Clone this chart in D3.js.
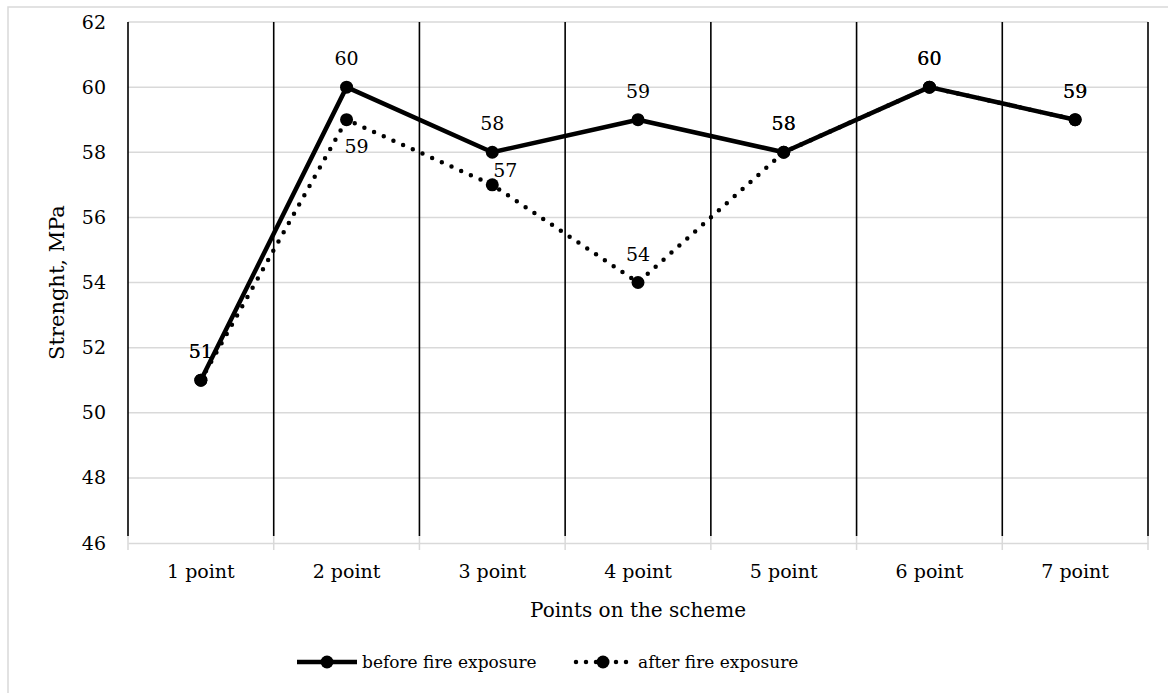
<!DOCTYPE html>
<html>
<head>
<meta charset="utf-8">
<script src="https://cdn.jsdelivr.net/npm/d3@7"></script>
<style>
  html, body { margin: 0; padding: 0; background: #fff; }
  svg { display: block; }
  text { font-family: "DejaVu Serif", "Liberation Serif", serif; fill: #000; }
</style>
</head>
<body>
<svg id="chart" width="1168" height="693"></svg>
<script>
// Categories along the x axis
const categories = ["1 point", "2 point", "3 point", "4 point", "5 point", "6 point", "7 point"];
// Strength values, MPa
const beforeFire = [51, 60, 58, 59, 58, 60, 59];
const afterFire  = [51, 59, 57, 54, 58, 60, 59];
// Value axis ticks
const yTicks = [46, 48, 50, 52, 54, 56, 58, 60, 62];
// Where each "after" label sits relative to its marker
const afterLabelSide = ["top", "bottom-right", "top-right", "top", "top", "top", "top"];

const seriesNames = ["before fire exposure", "after fire exposure"];

const svg = d3.select("#chart");
const W = 1168, H = 693;
const plot = { left: 128, right: 1148, top: 22, bottom: 543 };

// Chart-area frame
svg.append("rect")
  .attr("x", 8).attr("y", 7)
  .attr("width", W + 10).attr("height", H + 10)
  .attr("fill", "#fff").attr("stroke", "#d9d9d9").attr("stroke-width", 1.5);

const x = d3.scaleBand().domain(categories).range([plot.left, plot.right]).padding(0);
const y = d3.scaleLinear().domain([46, 62]).range([plot.bottom, plot.top]);

// Horizontal gridlines
svg.append("g").selectAll("line").data(yTicks.filter(t => t !== 46)).join("line")
  .attr("x1", plot.left).attr("x2", plot.right)
  .attr("y1", d => y(d)).attr("y2", d => y(d))
  .attr("stroke", "#d9d9d9").attr("stroke-width", 1.5);

// Category axis (gray baseline + ticks between categories)
const xAxis = d3.axisBottom(x).tickSize(0).tickPadding(22);
const gx = svg.append("g").attr("transform", `translate(0,${plot.bottom})`).call(xAxis);
gx.select(".domain").attr("stroke", "#d9d9d9").attr("stroke-width", 1.5);
gx.selectAll("text")
  .style("font-family", '"DejaVu Serif", serif')
  .style("font-size", "19px").attr("fill", "#000");

const boundaries = categories.map(c => x(c)).concat([x(categories[categories.length - 1]) + x.bandwidth()]);
svg.append("g").selectAll("line").data(boundaries).join("line")
  .attr("x1", d => d).attr("x2", d => d)
  .attr("y1", plot.bottom - 7).attr("y2", plot.bottom + 7)
  .attr("stroke", "#d9d9d9").attr("stroke-width", 1.5);

// Black vertical separators between categories
svg.append("g").selectAll("line").data(boundaries).join("line")
  .attr("x1", d => d).attr("x2", d => d)
  .attr("y1", plot.top).attr("y2", plot.bottom - 7)
  .attr("stroke", "#000").attr("stroke-width", 1.6);

// Value axis labels
const yAxis = d3.axisLeft(y).tickValues(yTicks).tickSize(0).tickPadding(22);
const gy = svg.append("g").attr("transform", `translate(${plot.left},0)`).call(yAxis);
gy.select(".domain").remove();
gy.selectAll("text")
  .style("font-family", '"DejaVu Serif", serif')
  .style("font-size", "19px").attr("fill", "#000");

// Axis titles
svg.append("text")
  .attr("x", (plot.left + plot.right) / 2).attr("y", 617)
  .attr("text-anchor", "middle").style("font-size", "20px")
  .text("Points on the scheme");

svg.append("text")
  .attr("transform", `translate(64,${(plot.top + plot.bottom) / 2}) rotate(-90)`)
  .attr("text-anchor", "middle").style("font-size", "21px")
  .text("Strenght, MPa");

const cx = c => x(c) + x.bandwidth() / 2;
const line = d3.line().x((d, i) => cx(categories[i])).y(d => y(d));

// "after" series (drawn first, underneath)
svg.append("path").datum(afterFire)
  .attr("d", line).attr("fill", "none")
  .attr("stroke", "#000").attr("stroke-width", 4.5)
  .attr("stroke-linecap", "round").attr("stroke-dasharray", "0 10.6");
svg.append("g").selectAll("circle").data(afterFire).join("circle")
  .attr("cx", (d, i) => cx(categories[i])).attr("cy", d => y(d)).attr("r", 6.5)
  .attr("fill", "#000");

// "before" series
svg.append("path").datum(beforeFire)
  .attr("d", line).attr("fill", "none")
  .attr("stroke", "#000").attr("stroke-width", 4.5)
  .attr("stroke-linejoin", "round");
svg.append("g").selectAll("circle").data(beforeFire).join("circle")
  .attr("cx", (d, i) => cx(categories[i])).attr("cy", d => y(d)).attr("r", 6.5)
  .attr("fill", "#000");

// Data labels
const labelFont = "19px";
svg.append("g").selectAll("text").data(beforeFire).join("text")
  .attr("x", (d, i) => cx(categories[i])).attr("y", d => y(d) - 22)
  .attr("text-anchor", "middle").style("font-size", labelFont)
  .text(d => d);

const sideOffset = {
  "top": [0, -22],
  "bottom-right": [10, 33],
  "top-right": [13, -8]
};
svg.append("g").selectAll("text").data(afterFire).join("text")
  .attr("x", (d, i) => cx(categories[i]) + sideOffset[afterLabelSide[i]][0])
  .attr("y", (d, i) => y(d) + sideOffset[afterLabelSide[i]][1])
  .attr("text-anchor", "middle").style("font-size", labelFont)
  .text(d => d);

// Legend
const legendY = 662;
const leg = svg.append("g");
const lg1 = leg.append("g");
lg1.append("line").attr("x1", 297).attr("x2", 357).attr("y1", legendY).attr("y2", legendY)
  .attr("stroke", "#000").attr("stroke-width", 4.5);
lg1.append("circle").attr("cx", 327).attr("cy", legendY).attr("r", 6.5).attr("fill", "#000");
lg1.append("text").attr("x", 362).attr("y", legendY + 6).style("font-size", "17px").text(seriesNames[0]);

const lg2 = leg.append("g");
lg2.append("line").attr("x1", 576).attr("x2", 632).attr("y1", legendY).attr("y2", legendY)
  .attr("stroke", "#000").attr("stroke-width", 4.5)
  .attr("stroke-linecap", "round").attr("stroke-dasharray", "0 10");
lg2.append("circle").attr("cx", 603).attr("cy", legendY).attr("r", 6.5).attr("fill", "#000");
lg2.append("text").attr("x", 638).attr("y", legendY + 6).style("font-size", "17px").text(seriesNames[1]);
</script>
</body>
</html>
